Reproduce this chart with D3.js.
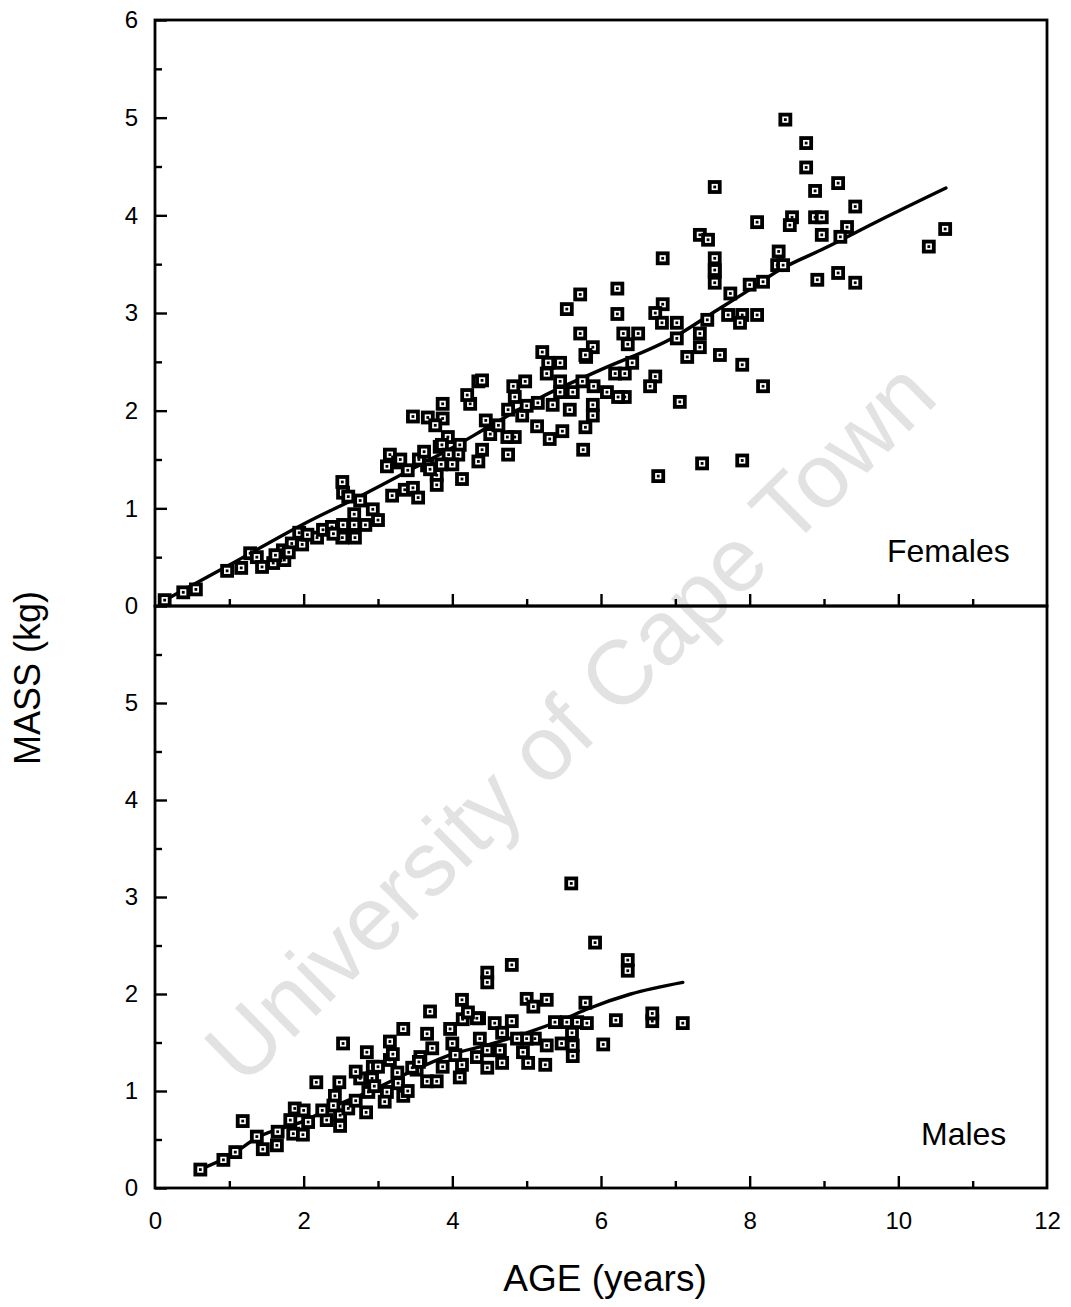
<!DOCTYPE html>
<html>
<head>
<meta charset="utf-8">
<script src="https://cdn.jsdelivr.net/npm/d3@7"></script>
<style>
  html, body { margin: 0; padding: 0; background: #fff; }
  svg { display: block; }
  text { font-family: "Liberation Sans", Arial, Helvetica, sans-serif; }
</style>
</head>
<body>
<svg id="chart" width="1071" height="1307"></svg>
<script>
// ---------------- DATA ----------------
const xTickMajor = [0, 2, 4, 6, 8, 10, 12];
const xTickMinor = [1, 3, 5, 7, 9, 11];
const femaleYTicks = [0, 1, 2, 3, 4, 5, 6];
const maleYTicks = [0, 1, 2, 3, 4, 5];
const yTickMinor = [0.5, 1.5, 2.5, 3.5, 4.5, 5.5];

// Females: [age (years), mass (kg)]
const femaleData = [
  [0.13,0.06],[0.38,0.14],[0.55,0.17],[0.97,0.36],[1.16,0.39],[1.28,0.54],[1.37,0.50],[1.44,0.40],
  [1.59,0.44],[1.74,0.47],[1.72,0.57],[1.84,0.64],[1.98,0.63],[1.94,0.75],[2.18,0.70],[2.26,0.78],
  [2.38,0.81],[2.52,0.70],[2.69,0.70],[2.53,0.83],[2.68,0.83],[2.83,0.83],[2.68,0.94],[2.93,0.99],
  [3.00,0.88],[2.52,1.27],[2.53,1.16],[2.60,1.12],[2.76,1.08],[3.19,1.13],[3.36,1.19],[3.47,1.21],
  [3.54,1.11],[3.16,1.55],[3.27,1.47],[3.12,1.43],[3.40,1.39],[3.79,1.34],[3.79,1.24],[3.66,1.44],
  [3.83,1.63],[1.62,0.52],[1.80,0.55],[2.05,0.73],[2.40,0.74],
  [4.35,2.30],[4.24,2.07],[4.20,2.16],[3.87,2.07],[3.87,1.92],[3.47,1.94],[3.67,1.93],[3.77,1.85],
  [3.94,1.73],[3.86,1.65],[4.10,1.65],[4.40,1.60],[4.08,1.55],[4.35,1.48],[4.13,1.30],[3.70,1.40],
  [4.75,1.55],[4.84,1.73],[4.74,1.73],[4.51,1.76],[4.75,2.01],[4.84,2.14],[4.82,2.25],[4.98,2.30],
  [4.94,1.95],[5.14,1.84],[5.31,1.71],[5.48,1.79],[5.35,2.06],[5.58,2.01],[5.27,2.38],[5.29,2.49],
  [5.45,2.49],[5.45,2.19],[5.62,2.19],[5.79,1.83],[5.89,2.06],[5.89,1.95],[5.76,1.60],[6.08,2.19],
  [6.19,2.38],[6.32,2.38],[6.32,2.14],[6.23,2.14],[4.40,2.31],
  [4.45,1.90],[4.62,1.85],[5.00,2.05],[5.15,2.08],[5.45,2.30],[5.75,2.30],[5.90,2.25],
  [3.55,1.50],[3.62,1.58],[3.95,1.55],[4.00,1.45],[3.30,1.50],[3.85,1.45],
  [5.72,3.19],[6.22,3.25],[5.54,3.04],[6.22,2.99],[6.83,3.09],[7.53,3.31],[7.53,3.42],[5.72,2.79],
  [5.89,2.65],[5.80,2.55],[6.30,2.79],[6.50,2.79],[6.36,2.68],[6.42,2.49],[6.73,3.00],[6.82,2.90],
  [7.02,2.90],[7.43,2.93],[7.33,2.79],[7.33,2.65],[7.02,2.74],[7.16,2.55],[7.60,2.57],[7.90,2.47],
  [8.18,2.25],[7.74,3.20],[7.71,2.98],[7.90,2.98],[8.10,2.98],[8.00,3.29],[8.18,3.32],[6.73,2.35],
  [6.66,2.25],[7.06,2.09],[7.36,1.46],[7.90,1.49],[6.77,1.33],[5.21,2.60],[5.79,2.57],[7.87,2.90],
  [7.53,4.29],[6.83,3.56],[7.33,3.80],[7.44,3.75],[7.53,3.56],[7.53,3.44],[8.10,3.93],[8.57,3.98],
  [8.54,3.90],[8.88,4.25],[8.88,3.98],[8.97,3.98],[9.19,4.33],[9.42,4.09],[8.97,3.80],[9.31,3.88],
  [9.22,3.78],[8.39,3.63],[8.37,3.49],[8.45,3.49],[8.91,3.34],[9.19,3.41],[9.42,3.31],[8.48,4.98],
  [8.76,4.74],[8.76,4.49],[10.63,3.86],[10.41,3.68]
];

// Females fitted curve
const femaleCurve = [
  [0.13,0.06],[1,0.42],[2,0.84],[2.8,1.14],[3.5,1.42],[4,1.62],[4.5,1.84],[5.2,2.14],[6,2.42],
  [7,2.76],[7.5,3.0],[8,3.24],[8.4,3.44],[9,3.66],[9.75,3.95],[10.64,4.28]
];

// Males: [age (years), mass (kg)]
const maleData = [
  [0.61,0.19],[0.92,0.29],[1.08,0.37],[1.18,0.69],[1.37,0.53],[1.45,0.40],[1.64,0.44],[1.65,0.58],
  [1.86,0.56],[1.99,0.55],[1.88,0.82],[2.06,0.68],[1.82,0.70],[2.17,1.09],[2.48,1.09],[2.31,0.70],
  [2.42,0.95],[2.49,0.64],[2.49,0.75],[2.60,0.82],[2.84,0.78],[2.76,1.13],[2.92,1.13],[2.93,1.25],
  [2.87,0.99],[3.12,0.99],[3.09,0.89],[3.34,0.95],[3.26,1.19],[3.27,1.08],[3.52,1.22],[3.66,1.10],
  [3.79,1.10],[3.87,1.25],[2.25,0.80],[2.70,0.90],[2.95,1.05],
  [4.80,2.30],[4.47,2.22],[4.47,2.12],[6.36,2.35],[6.36,2.24],[4.13,1.94],[3.70,1.82],[5.00,1.95],
  [5.27,1.94],[5.09,1.87],[5.79,1.91],[3.34,1.64],[3.16,1.51],[3.66,1.59],[3.97,1.64],[4.36,1.75],
  [4.57,1.70],[4.80,1.72],[5.38,1.71],[5.54,1.71],[5.68,1.71],[5.81,1.70],[6.20,1.73],[6.69,1.72],
  [6.69,1.80],[7.10,1.70],[6.03,1.48],[5.61,1.60],[5.62,1.47],[5.62,1.36],[5.27,1.47],[5.11,1.54],
  [5.00,1.54],[4.87,1.54],[4.37,1.54],[4.67,1.60],[4.95,1.40],[5.02,1.29],[5.25,1.27],[4.67,1.29],
  [4.47,1.24],[4.47,1.42],[4.64,1.42],[4.33,1.35],[4.13,1.27],[4.10,1.14],[4.04,1.37],[4.00,1.49],
  [3.73,1.44],[3.57,1.35],[3.16,1.32],[3.46,1.24],[4.14,1.74],[4.33,1.75],[4.21,1.81],
  [5.60,3.14],[5.92,2.53],[5.47,1.49],
  [2.53,1.49],[2.85,1.40],[3.00,1.25],[3.20,1.38],[2.70,1.20],[3.40,1.00],[3.55,1.30],[2.40,0.85],[2.00,0.80]
];

// Males fitted curve
const maleCurve = [
  [0.6,0.19],[1,0.33],[1.4,0.53],[2,0.69],[2.4,0.84],[2.9,1.0],[3.5,1.22],[4,1.38],[4.5,1.48],
  [5,1.6],[5.5,1.74],[5.8,1.84],[6.4,2.0],[7.1,2.12]
];

const panelLabels = ["Females", "Males"];

// ---------------- CHART ----------------
const svg = d3.select("#chart");
svg.append("rect").attr("width", 1071).attr("height", 1307).attr("fill", "#fff");

const left = 155, right = 1047;
const x = d3.scaleLinear().domain([0, 12]).range([left, right]);
const yF = d3.scaleLinear().domain([0, 6]).range([606, 20]);
const yM = d3.scaleLinear().domain([0, 6]).range([1188, 606]);

// watermark
svg.append("text")
  .attr("transform", "translate(575,727) rotate(-44.6)")
  .attr("text-anchor", "middle")
  .attr("dominant-baseline", "middle")
  .attr("font-size", 91)
  .attr("fill", "#e2e2e2")
  .text("University of Cape Town");

function drawPanel(yScale, yTicks, data, curve, label, showXLabels, labelPos) {
  const g = svg.append("g");
  const [y0, y1] = yScale.range();

  // y axis major ticks
  const yAxis = d3.axisLeft(yScale).tickValues(yTicks).tickSize(-12).tickPadding(17)
    .tickFormat(d3.format("d"));
  const ya = g.append("g").attr("transform", `translate(${left},0)`).call(yAxis);
  ya.select(".domain").remove();
  ya.selectAll("line").attr("stroke", "#000").attr("stroke-width", 2.4);
  ya.selectAll("text").attr("font-size", 24).attr("fill", "#000");

  const yAxisMinor = d3.axisLeft(yScale).tickValues(yTickMinor).tickSize(-7).tickFormat("");
  const ym = g.append("g").attr("transform", `translate(${left},0)`).call(yAxisMinor);
  ym.select(".domain").remove();
  ym.selectAll("line").attr("stroke", "#000").attr("stroke-width", 2.4);

  // x axis ticks (inward)
  const xAxis = d3.axisBottom(x).tickValues(xTickMajor.filter(v => v > 0 && v < 12)).tickSize(-12).tickFormat("");
  const xa = g.append("g").attr("transform", `translate(0,${y0})`).call(xAxis);
  xa.select(".domain").remove();
  xa.selectAll("line").attr("stroke", "#000").attr("stroke-width", 2.4);
  const xAxisMinor = d3.axisBottom(x).tickValues(xTickMinor).tickSize(-7).tickFormat("");
  const xm = g.append("g").attr("transform", `translate(0,${y0})`).call(xAxisMinor);
  xm.select(".domain").remove();
  xm.selectAll("line").attr("stroke", "#000").attr("stroke-width", 2.4);

  if (showXLabels) {
    const xl = d3.axisBottom(x).tickValues(xTickMajor).tickSize(0).tickPadding(24).tickFormat(d3.format("d"));
    const xlg = g.append("g").attr("transform", `translate(0,${y0})`).call(xl);
    xlg.select(".domain").remove();
    xlg.selectAll("text").attr("font-size", 24).attr("fill", "#000");
  }

  // frame
  g.append("rect")
    .attr("x", left).attr("y", y1)
    .attr("width", right - left).attr("height", y0 - y1)
    .attr("fill", "none").attr("stroke", "#000").attr("stroke-width", 2.8);

  // fitted line
  const line = d3.line().x(d => x(d[0])).y(d => yScale(d[1])).curve(d3.curveMonotoneX);
  g.append("path").datum(curve).attr("d", line)
    .attr("fill", "none").attr("stroke", "#000").attr("stroke-width", 3.4)
    .attr("stroke-linecap", "round").attr("stroke-linejoin", "round");

  // markers
  const pts = g.append("g").selectAll("g").data(data).join("g")
    .attr("transform", d => `translate(${x(d[0])},${yScale(d[1])})`);
  pts.append("rect").attr("x", -5).attr("y", -5).attr("width", 10).attr("height", 10)
    .attr("fill", "#fff").attr("stroke", "#000").attr("stroke-width", 3.8);
  pts.append("rect").attr("x", -1.4).attr("y", -1.4).attr("width", 2.8).attr("height", 2.8)
    .attr("fill", "#000");

  g.append("text").attr("x", labelPos[0]).attr("y", labelPos[1])
    .attr("font-size", 32).attr("fill", "#000").text(label);
}

drawPanel(yF, femaleYTicks, femaleData, femaleCurve, panelLabels[0], false, [887, 562]);
drawPanel(yM, maleYTicks, maleData, maleCurve, panelLabels[1], true, [921, 1145]);

// axis titles
svg.append("text").attr("x", 605).attr("y", 1291).attr("text-anchor", "middle")
  .attr("font-size", 37).attr("fill", "#000").text("AGE (years)");
svg.append("text").attr("transform", "translate(40,678) rotate(-90)").attr("text-anchor", "middle")
  .attr("font-size", 36).attr("fill", "#000").text("MASS (kg)");
</script>
</body>
</html>
